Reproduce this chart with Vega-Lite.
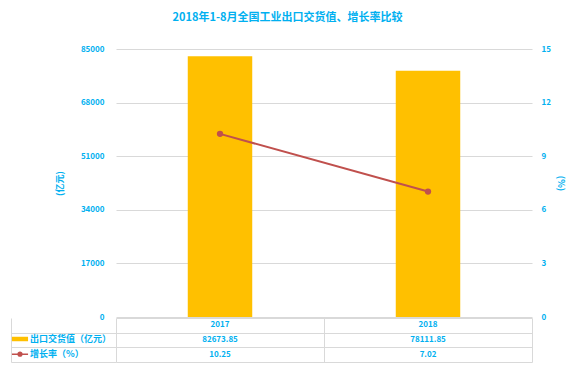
{
  "$schema": "https://vega.github.io/schema/vega-lite/v6.json",
  "padding": {"left": 10, "top": 12, "right": 7, "bottom": 2},
  "background": "white",
  "title": {"text": "2018年1-8月全国工业出口交货值、增长率比较", "fontSize": 11, "fontWeight": "bold", "color": "#00B0F0", "font": "Noto Sans CJK SC", "anchor": "middle", "offset": 22},
  "datasets": {
    "d": [
      {"year": "2017", "export": 82673.85, "growth": 10.25},
      {"year": "2018", "export": 78111.85, "growth": 7.02}
    ]
  },
  "data": {"name": "d"},
  "spacing": 1,
  "bounds": "flush",
  "resolve": {"legend": {"color": "independent", "shape": "independent"}},
  "vconcat": [
    {
      "width": 416,
      "height": 268,
      "layer": [
        {
          "mark": {"type": "bar", "color": "#FFC000"},
          "encoding": {
            "x": {"field": "year", "type": "nominal", "scale": {"paddingInner": 0.69, "paddingOuter": 0.345}, "axis": null},
            "y": {"field": "export", "type": "quantitative", "scale": {"domain": [0, 85000], "nice": false},
              "axis": {"orient": "left", "values": [0, 17000, 34000, 51000, 68000, 85000], "format": "d", "title": "(亿元)", "grid": true, "gridColor": "#D9D9D9", "ticks": false, "domain": false, "labelPadding": 12, "titlePadding": 16}}
          }
        },
        {
          "mark": {"type": "line", "color": "#C0504D", "strokeWidth": 2, "point": {"filled": true, "size": 40, "color": "#C0504D"}},
          "encoding": {
            "x": {"field": "year", "type": "nominal"},
            "y": {"field": "growth", "type": "quantitative", "scale": {"domain": [0, 15], "nice": false},
              "axis": {"orient": "right", "values": [0, 3, 6, 9, 12, 15], "title": "(%)", "grid": false, "ticks": false, "domain": false, "labelPadding": 9, "titlePadding": 5}}
          }
        }
      ],
      "resolve": {"scale": {"y": "independent"}}
    },
    {
      "width": 416,
      "height": 44,
      "layer": [
        {
          "mark": {"type": "text", "fontWeight": "bold", "fontSize": 8, "color": "#00B0F0", "font": "Noto Sans CJK SC"},
          "encoding": {
            "x": {"field": "year", "type": "nominal", "scale": {"paddingInner": 0, "paddingOuter": 0},
              "axis": {"orient": "top", "title": null, "labels": false, "ticks": false, "domain": false, "grid": true, "gridColor": "#D9D9D9", "tickBand": "extent"}},
            "y": {"datum": "hdr", "type": "nominal", "scale": {"domain": ["hdr", "export", "growth"], "paddingInner": 0, "paddingOuter": 0},
              "axis": {"title": null, "labels": false, "offset": 105, "domain": true, "domainColor": "#D9D9D9", "ticks": true, "tickSize": -105, "tickBand": "extent", "tickColor": {"condition": {"test": "datum.value !== 'hdr' && datum.value !== 'export' && datum.value !== 'growth'", "value": "transparent"}, "value": "#D9D9D9"}, "grid": true, "gridColor": "#D9D9D9"}},
            "text": {"field": "year"}
          }
        },
        {
          "transform": [{"fold": ["export", "growth"], "as": ["row", "val"]}],
          "mark": {"type": "text", "fontWeight": "bold", "fontSize": 8, "color": "#00B0F0", "font": "Noto Sans CJK SC"},
          "encoding": {
            "x": {"field": "year", "type": "nominal"},
            "y": {"field": "row", "type": "nominal"},
            "text": {"field": "val", "type": "quantitative", "format": ".2f"}
          }
        },
        {
          "transform": [{"fold": ["export", "growth"], "as": ["row", "val"]}],
          "mark": {"type": "point", "filled": true, "opacity": 0},
          "encoding": {
            "x": {"field": "year", "type": "nominal"},
            "y": {"field": "row", "type": "nominal"},
            "color": {"field": "row", "type": "nominal", "scale": {"domain": ["export", "growth"], "range": ["#FFC000", "#C0504D"]},
              "legend": {"title": null, "orient": "none", "legendX": -103, "legendY": 14, "symbolSize": 196, "symbolOpacity": 1, "symbolStrokeWidth": 0, "rowPadding": 3.2, "labelOffset": 3, "padding": 0,
                "labelFontSize": 9, "labelFontWeight": "bold", "labelColor": "#00B0F0", "labelFont": "Noto Sans CJK SC",
                "labelExpr": "datum.label === 'export' ? '出口交货值（亿元）' : '增长率（%）'"}},
            "shape": {"field": "row", "type": "nominal", "scale": {"domain": ["export", "growth"], "range": ["M-1.15,-0.32H1.15V0.32H-1.15Z", "M-1.15,-0.1H1.15V0.1H-1.15Z M0.38,0A0.38,0.38 0 1,1 -0.38,0A0.38,0.38 0 1,1 0.38,0Z"]},
              "legend": {"title": null, "orient": "none", "legendX": -103, "legendY": 14, "symbolSize": 196, "symbolOpacity": 1, "symbolStrokeWidth": 0, "rowPadding": 3.2, "labelOffset": 3, "padding": 0,
                "labelFontSize": 9, "labelFontWeight": "bold", "labelColor": "#00B0F0", "labelFont": "Noto Sans CJK SC",
                "labelExpr": "datum.label === 'export' ? '出口交货值（亿元）' : '增长率（%）'"}}
          }
        }
      ]
    }
  ],
  "config": {
    "view": {"stroke": null},
    "axis": {"labelFont": "Noto Sans CJK SC", "labelFontSize": 8, "labelFontWeight": "bold", "labelColor": "#00B0F0", "titleFont": "Noto Sans CJK SC", "titleFontSize": 9, "titleFontWeight": "bold", "titleColor": "#00B0F0"}
  }
}
